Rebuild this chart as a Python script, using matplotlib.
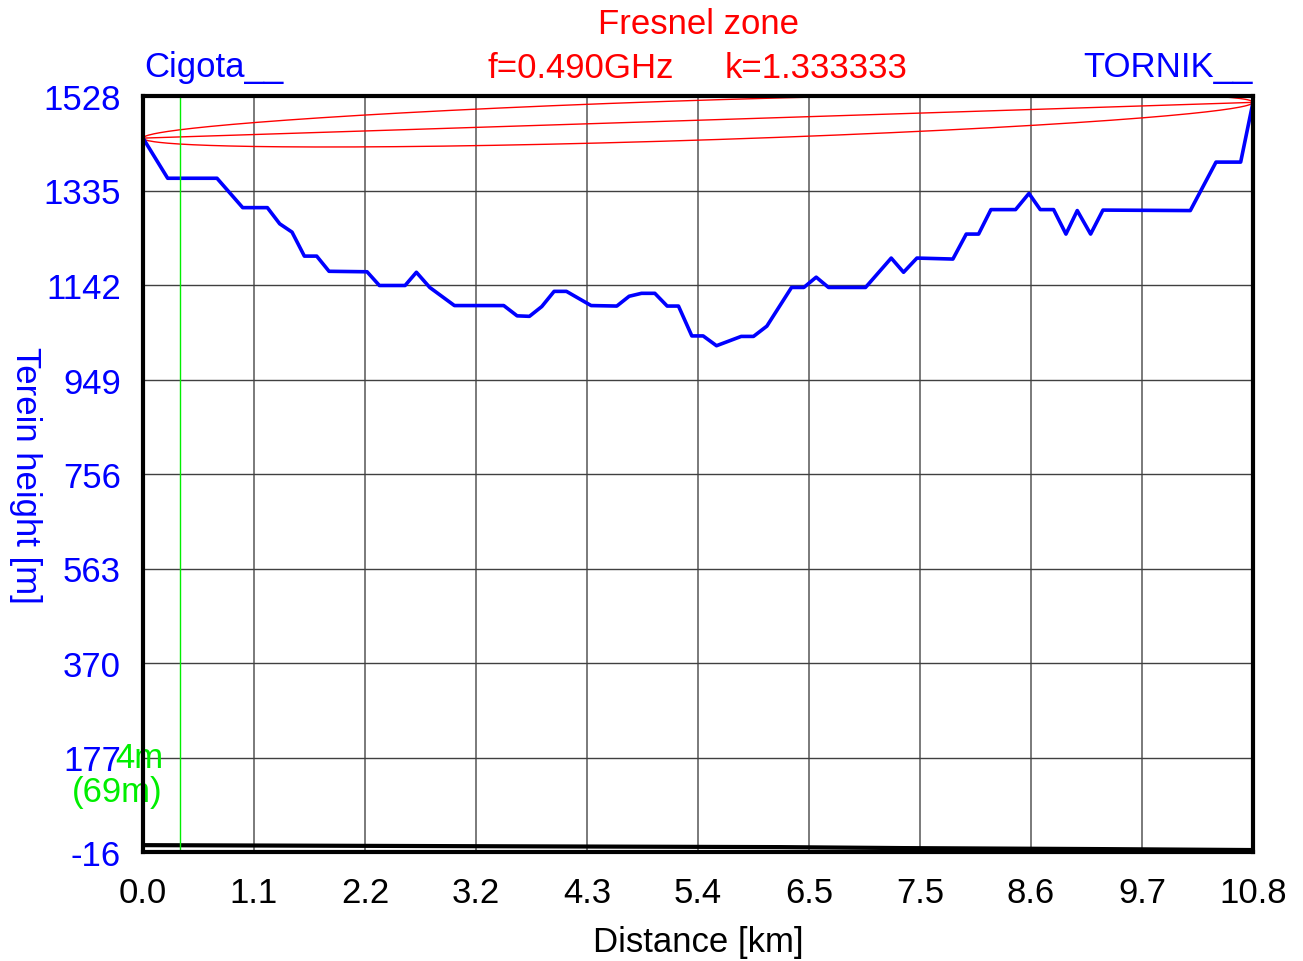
import numpy as np
import matplotlib.pyplot as plt
import matplotlib.transforms as mtransforms

plt.rcParams['font.family'] = ['Liberation Sans', 'DejaVu Sans']

# terrain profile (km, m)
dist_km = [0, 0.24, 0.72, 0.97, 1.21, 1.33, 1.45, 1.57, 1.69, 1.81, 2.18, 2.30, 2.55, 2.66,
           2.79, 3.03, 3.51, 3.64, 3.76, 3.88, 4.00, 4.12, 4.36, 4.61, 4.73, 4.85, 4.98, 5.10,
           5.21, 5.34, 5.45, 5.58, 5.82, 5.94, 6.07, 6.31, 6.43, 6.55, 6.67, 7.03, 7.28, 7.40,
           7.53, 7.88, 8.01, 8.13, 8.25, 8.49, 8.62, 8.73, 8.86, 8.98, 9.09, 9.22, 9.34, 10.19,
           10.44, 10.68, 10.8]
height_m = [1442, 1360, 1360, 1300, 1300, 1267, 1250, 1201, 1201, 1170, 1169, 1141, 1141, 1168,
            1137, 1100, 1100, 1079, 1078, 1098, 1129, 1129, 1100, 1099, 1119, 1125, 1125, 1099,
            1099, 1038, 1038, 1018, 1037, 1037, 1058, 1137, 1137, 1158, 1137, 1137, 1197, 1168,
            1197, 1195, 1246, 1246, 1296, 1296, 1329, 1296, 1296, 1246, 1294, 1246, 1295, 1294,
            1393, 1393, 1515]

# reference (sea level) line at the bottom
base_km = [0, 3.0, 6.2, 7.4, 9.3, 10.8]
base_m = [-2, -4, -6, -8, -10, -12]

# link parameters
freq_ghz = 0.490
k_factor = 1.333333
ant_left_m = 1442
ant_right_m = 1515
marker_km = 0.36

x_ticks = [i * 1.08 for i in range(11)]
x_labels = ["0.0", "1.1", "2.2", "3.2", "4.3", "5.4", "6.5", "7.5", "8.6", "9.7", "10.8"]
y_ticks = [-16, 177, 370, 563, 756, 949, 1142, 1335, 1528]
y_labels = ["-16", "177", "370", "563", "756", "949", "1142", "1335", "1528"]

BLUE = '#0000ff'
RED = '#ff0000'
GREEN = '#00ee00'
FS = 25

fig = plt.figure(figsize=(13.03, 9.62), dpi=100)
ax = fig.add_axes([143 / 1303, 1 - 853 / 962, 1110 / 1303, 756 / 962])

D = dist_km[-1]
ax.set_xlim(0, D)
ax.set_ylim(y_ticks[0], y_ticks[-1])

# grid
for x in x_ticks[1:-1]:
    ax.axvline(x, color='#707070', lw=1.3, zorder=1)
for y in y_ticks[1:-1]:
    ax.axhline(y, color='#404040', lw=1.0, zorder=1)

# first Fresnel zone
d = np.linspace(0, D, 400)
los = ant_left_m + (ant_right_m - ant_left_m) * d / D
r = 17.32 * np.sqrt(d * (D - d) / (freq_ghz * D))
ax.plot(d, los, color=RED, lw=1.0, zorder=3)
ax.plot(d, los + r, color=RED, lw=1.0, zorder=3)
ax.plot(d, los - r, color=RED, lw=1.0, zorder=3)

# terrain
ax.plot(dist_km, height_m, color=BLUE, lw=2.6, zorder=4)
ax.plot(base_km, base_m, color='black', lw=3.0, zorder=4)

# marker
ax.axvline(marker_km, color=GREEN, lw=1.0, zorder=5)
trans = mtransforms.blended_transform_factory(ax.transAxes, ax.transData)
ax.text(0.018, 177, "4m", color=GREEN, fontsize=FS, ha='right', va='center',
        transform=trans, clip_on=False, zorder=6)
ax.text(0.018, 108, "(69m)", color=GREEN, fontsize=FS, ha='right', va='center',
        transform=trans, clip_on=False, zorder=6)

ax.set_xticks(x_ticks)
ax.set_xticklabels(x_labels)
ax.set_yticks(y_ticks)
ax.set_yticklabels(y_labels)
ax.tick_params(axis='both', length=0, labelsize=FS)
ax.tick_params(axis='y', pad=16, labelcolor=BLUE)
ax.tick_params(axis='x', pad=17, labelcolor='black')

for s in ax.spines.values():
    s.set_linewidth(3)
    s.set_color('black')
    s.set_zorder(7)

ax.set_xlabel("Distance [km]", fontsize=FS, color='black', va='center')
ax.xaxis.set_label_coords(0.5, -0.118)
ax.set_ylabel("Terein height [m]", fontsize=FS, color=BLUE, rotation=270, va='center')
ax.yaxis.set_label_coords(-0.106, 0.5)

# header texts
fig.text(698 / 1303, 1 - 25 / 962, "Fresnel zone", color=RED, fontsize=FS, ha='center', va='center')
fig.text(144 / 1303, 1 - 68 / 962, "Cigota__", color=BLUE, fontsize=FS, ha='left', va='center')
fig.text(581 / 1303, 1 - 68 / 962, "f=%.3fGHz" % freq_ghz, color=RED, fontsize=FS, ha='center', va='center')
fig.text(816 / 1303, 1 - 68 / 962, "k=%.6f" % k_factor, color=RED, fontsize=FS, ha='center', va='center')
fig.text(1253 / 1303, 1 - 68 / 962, "TORNIK__", color=BLUE, fontsize=FS, ha='right', va='center')

fig.savefig("out.png", dpi=100)
